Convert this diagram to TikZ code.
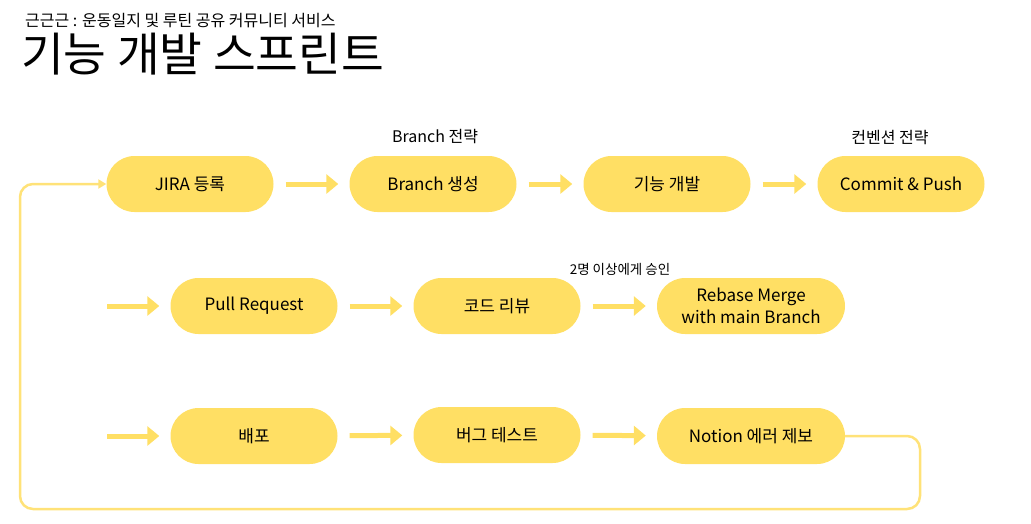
\documentclass[tikz,border=0pt]{standalone}
\usepackage{fontspec}
\setmainfont{Noto Sans CJK KR}
\usetikzlibrary{arrows.meta,positioning}
\definecolor{pillyellow}{RGB}{255,223,100}
\definecolor{loopyellow}{RGB}{255,226,120}
\tikzset{
  pill/.style={fill=pillyellow, rounded corners=28pt, minimum width=167pt,
    minimum height=56pt, inner sep=0pt, align=center,
    font=\fontsize{17}{22}\selectfont},
  flow/.style={draw=pillyellow, line width=5pt,
    -{Triangle[length=12pt,width=19pt]}, shorten <=12pt, shorten >=11pt},
  loopline/.style={draw=loopyellow, line width=2.5pt, rounded corners=13pt,
    -{Triangle[length=8pt,width=9pt]}},
  note/.style={font=\fontsize{16}{19}\selectfont, inner sep=0pt},
}
\begin{document}
\begin{tikzpicture}[x=1pt,y=-1pt]
\useasboundingbox (0,0) rectangle (1031,523);
% heading
\node[anchor=base west, inner sep=0pt, font=\fontsize{16}{19}\selectfont] (subtitle) at (25,26) {근근근 : 운동일지 및 루틴 공유 커뮤니티 서비스};
\node[anchor=base west, inner sep=0pt, font=\fontsize{46.5}{52}\selectfont] (title) at (21,71) {기능 개발 스프린트};
% first row
\node[pill] (jira) at (190,184) {JIRA 등록};
\node[pill] (branch) at (433,184) {Branch 생성};
\node[pill] (dev) at (667,184) {기능 개발};
\node[pill] (commit) at (901,184) {Commit \& Push};
\node[note] (branchnote) at (435,137) {Branch 전략};
\node[note] (commitnote) at (890,137) {컨벤션 전략};
\draw[flow] (jira) -- (branch); \draw[flow] (branch) -- (dev); \draw[flow] (dev) -- (commit);
% second row
\coordinate (prin) at (107,306);
\node[pill] (pr) at (254,306) {Pull Request};
\node[pill] (review) at (497,306) {코드 리뷰};
\node[pill, minimum width=188pt] (rebase) at (751,306) {Rebase Merge\\with main Branch};
\node[note, font=\fontsize{13.5}{16}\selectfont] (reviewnote) at (620,269) {2명 이상에게 승인};
\draw[flow, shorten <=0pt] (prin) -- (pr); \draw[flow] (pr) -- (review); \draw[flow] (review) -- (rebase);
% third row
\coordinate (deployin) at (107,436);
\node[pill] (deploy) at (254,436) {배포};
\node[pill] (bugtest) at (497,435) {버그 테스트};
\node[pill, minimum width=188pt] (notion) at (751,436) {Notion 에러 제보};
\draw[flow, shorten <=0pt] (deployin) -- (deploy); \draw[flow] (deploy) -- (bugtest); \draw[flow] (bugtest) -- (notion);
% back to the start
\draw[loopline] (notion.east) -- (920,436) -- (920,509) -- (20,509) -- (20,184) -- (jira.west);
\end{tikzpicture}
\end{document}
